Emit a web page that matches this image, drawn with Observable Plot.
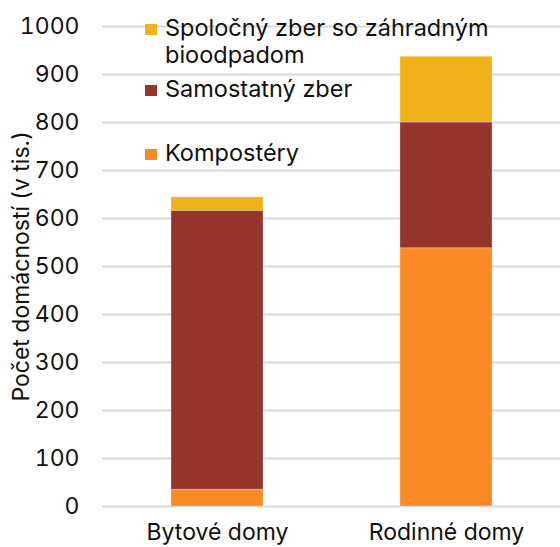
<!DOCTYPE html>
<html><head><meta charset="utf-8">
<script src="https://cdn.jsdelivr.net/npm/d3@7"></script>
<script src="https://cdn.jsdelivr.net/npm/@observablehq/plot@0.6"></script>
<style>
body{margin:0;background:#fff;}
#wrap{position:relative;width:560px;height:547px;font-family:Inter,"Noto Sans",sans-serif;}
#legend{position:absolute;left:145px;top:0;font-size:23.5px;color:#111;}
.li{position:absolute;left:0;white-space:nowrap;}
.sw{position:absolute;left:0;width:12px;height:11px;}
.lt{position:absolute;left:20px;top:0;line-height:27px;}
</style>
</head><body>
<div id="wrap"></div>
<script>
const categories = ["Bytové domy", "Rodinné domy"];
const seriesNames = ["Kompostéry", "Samostatný zber", "Spoločný zber so záhradným bioodpadom"];
const kompostery = [35, 538];
const samostatny = [581, 262];
const spolocny = [28, 137];
const colors = ["#FA8A24", "#96352C", "#F0B21B"];
const yTicks = [0,100,200,300,400,500,600,700,800,900,1000];
const yLabel = "Počet domácností (v tis.)";

const rows = [];
const vals = [kompostery, samostatny, spolocny];
seriesNames.forEach((s, si) => categories.forEach((c, ci) => rows.push({cat: c, series: s, value: vals[si][ci]})));

const chart = Plot.plot({
  width: 560, height: 547,
  marginTop: 26, marginBottom: 41, marginLeft: 102, marginRight: 0,
  style: {fontFamily: "Inter, 'Noto Sans', sans-serif", fontSize: "23px", color: "#111"},
  x: {domain: categories, paddingInner: 0.6, paddingOuter: 0.3, label: null},
  y: {domain: [0, 1000], ticks: yTicks, label: yLabel},
  color: {domain: seriesNames, range: colors},
  marks: [
    Plot.ruleY(yTicks, {stroke: "#d9d9d9", strokeWidth: 1.8}),
    Plot.barY(rows, Plot.stackY({order: seriesNames}, {x: "cat", y: "value", fill: "series", z: "series", stroke: "#fff", strokeOpacity: 0.25, strokeWidth: 1})),
    Plot.axisY({ticks: yTicks, tickSize: 0, tickPadding: 23, tickFormat: "d", label: yLabel, labelAnchor: "center", labelArrow: "none", labelOffset: 90, fontSize: 23}),
    Plot.axisX({tickSize: 0, tickPadding: 17, label: null, fontSize: 23})
  ]
});
const wrap = document.getElementById("wrap");
wrap.appendChild(chart);

// legend: [text lines, colour, top of first line box]
const legendItems = [
  {lines: ["Spoločný zber so záhradným", "bioodpadom"], color: colors[2], top: 14},
  {lines: [seriesNames[1]], color: colors[1], top: 75},
  {lines: [seriesNames[0]], color: colors[0], top: 139}
];
const lg = document.createElement("div"); lg.id = "legend";
legendItems.forEach(it => {
  const d = document.createElement("div"); d.className = "li"; d.style.top = it.top + "px";
  d.innerHTML = `<div class="sw" style="background:${it.color};top:10px"></div><div class="lt">${it.lines.join("<br>")}</div>`;
  lg.appendChild(d);
});
wrap.appendChild(lg);
</script>
</body></html>
